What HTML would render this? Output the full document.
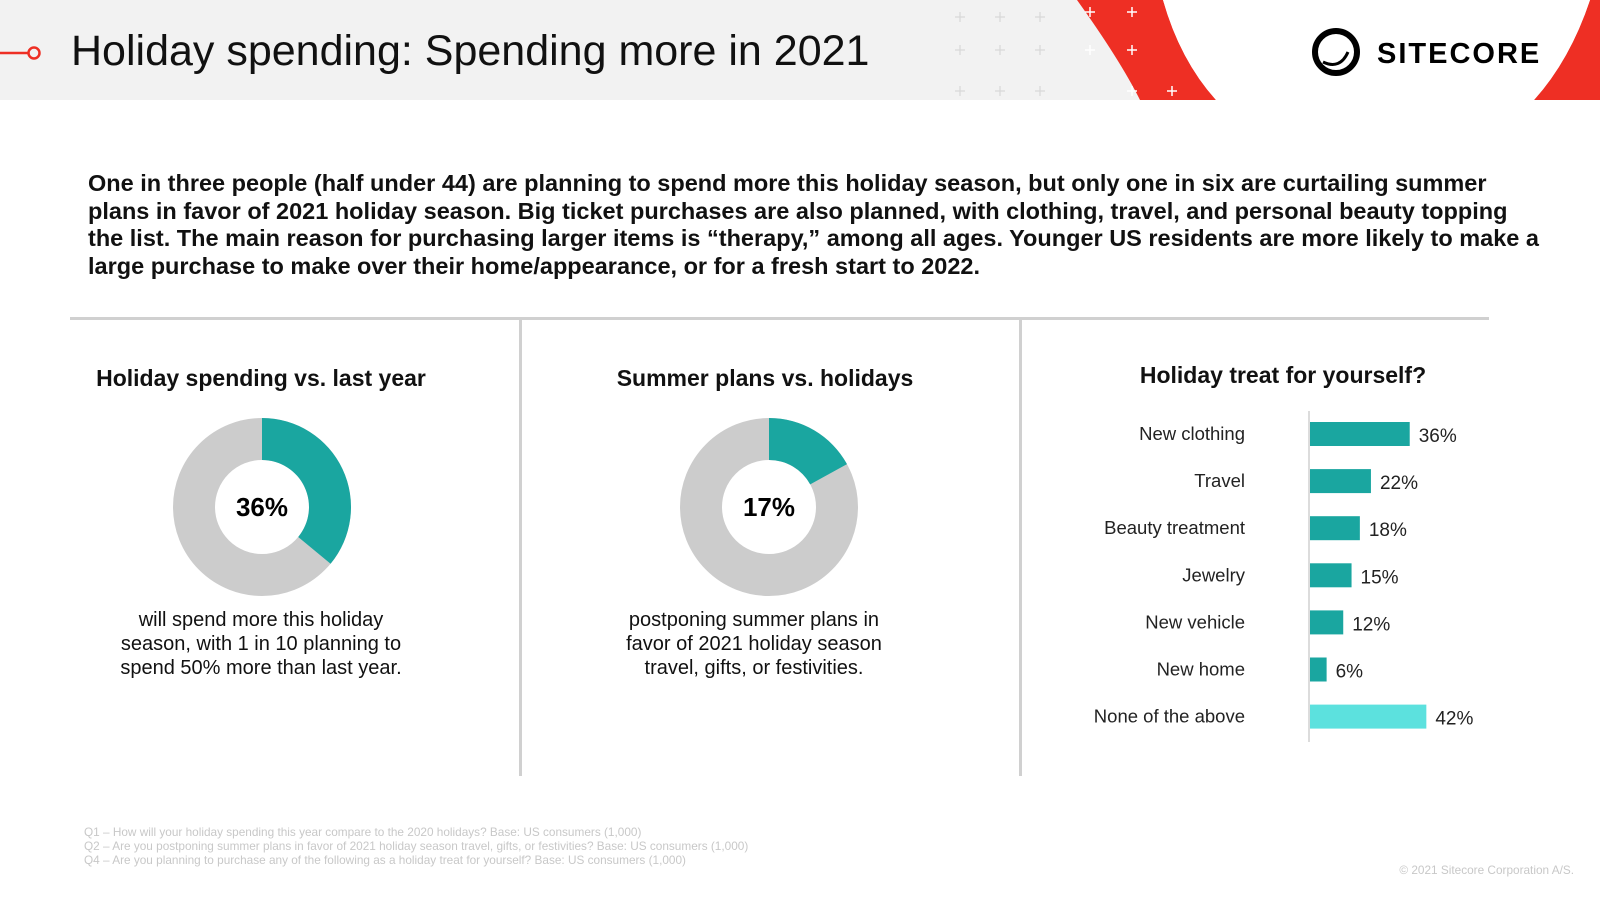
<!DOCTYPE html>
<html><head><meta charset="utf-8"><style>
body{margin:0;width:1600px;height:900px;background:#fff;font-family:"Liberation Sans",sans-serif;position:relative;overflow:hidden;color:#111}
.abs{position:absolute}
.t{font-weight:bold;font-size:23px;text-align:center;width:460px}
.cap{font-size:20px;line-height:24px;text-align:center;width:300px}
.foot{font-size:11.8px;color:#c8c8c8;left:84px}
</style></head><body>
<div class="abs" style="left:0;top:0;width:1600px;height:100px;background:#f2f2f2"></div>
<svg class="abs" style="left:0;top:0" width="1600" height="100">
<g stroke="#d8d8d8" stroke-width="1.2">
<path d="M960 12v10M955 17h10M1000 12v10M995 17h10M1040 12v10M1035 17h10M1214 12v10M1209 17h10M1256 12v10M1251 17h10"/>
<path d="M960 45v10M955 50h10M1000 45v10M995 50h10M1040 45v10M1035 50h10M1214 45v10M1209 50h10"/>
<path d="M960 86v10M955 91h10M1000 86v10M995 91h10M1040 86v10M1035 91h10M1214 86v10M1209 91h10"/>
</g>
<path d="M1077 0 Q1120 60 1140 100 L1216 100 Q1180 60 1163 0Z" fill="#ee2f24"/>
<path d="M1590 0 L1600 0 L1600 100 L1534 100 Q1570 60 1590 0Z" fill="#ee2f24"/>
<path d="M1163 0 Q1180 60 1216 100 L1534 100 Q1570 60 1590 0Z" fill="#fff"/>
<g stroke="#fff" stroke-width="1.5"><path d="M1090 7v10M1085 12h10M1132 7v10M1127 12h10M1132 45v10M1127 50h10M1090 45v10M1085 50h10M1132 86v10M1127 91h10M1172 86v10M1167 91h10"/></g>
<circle cx="1336" cy="52" r="21" fill="none" stroke="#000" stroke-width="6"/>
<path d="M1323 62 Q1340 70 1348 52" fill="none" stroke="#000" stroke-width="3"/>
<text x="1377" y="63" font-size="29" font-weight="bold" letter-spacing="2" font-family="Liberation Sans">SITECORE</text>
<path d="M0 53h28" stroke="#ee2f24" stroke-width="2.5"/><circle cx="34" cy="53" r="5.5" fill="none" stroke="#ee2f24" stroke-width="2.5"/>
</svg>
<div class="abs" style="left:71px;top:27px;font-size:43px;color:#111">Holiday spending: Spending more in 2021</div>
<div class="abs" style="left:88px;top:170px;width:1460px;font-size:23.5px;line-height:27.6px;font-weight:bold">One in three people (half under 44) are planning to spend more this holiday season, but only one in six are curtailing summer plans in favor of 2021 holiday season. Big ticket purchases are also planned, with clothing, travel, and personal beauty topping the list. The main reason for purchasing larger items is “therapy,” among all ages. Younger US residents are more likely to make a large purchase to make over their home/appearance, or for a fresh start to 2022.</div>
<div class="abs" style="left:70px;top:317px;width:1419px;height:3px;background:#d0d0d0"></div>
<div class="abs" style="left:519px;top:318px;width:3px;height:458px;background:#d0d0d0"></div>
<div class="abs" style="left:1019px;top:318px;width:3px;height:458px;background:#d0d0d0"></div>
<div class="abs t" style="left:31px;top:365px">Holiday spending vs. last year</div>
<div class="abs t" style="left:535px;top:365px">Summer plans vs. holidays</div>
<div class="abs t" style="left:1053px;top:362px">Holiday treat for yourself?</div>
<div class="abs cap" style="left:111px;top:608px">will spend more this holiday season, with 1 in 10 planning to spend 50% more than last year.</div>
<div class="abs cap" style="left:609px;top:608px;width:290px">postponing summer plans in favor of 2021 holiday season travel, gifts, or festivities.</div>
<svg id="charts" class="abs" style="left:0;top:0" width="1600" height="900"></svg>
<div class="abs foot" style="top:825px">Q1 – How will your holiday spending this year compare to the 2020 holidays? Base: US consumers (1,000)</div>
<div class="abs foot" style="top:839px">Q2 – Are you postponing summer plans in favor of 2021 holiday season travel, gifts, or festivities? Base: US consumers (1,000)</div>
<div class="abs foot" style="top:853px">Q4 – Are you planning to purchase any of the following as a holiday treat for yourself? Base: US consumers (1,000)</div>
<div class="abs foot" style="left:auto;right:26px;top:863px">© 2021 Sitecore Corporation A/S.</div>
<script>
const donutValues=[36,17];
const donutCenters=[[262,507],[769,507]];
const barCategories=["New clothing","Travel","Beauty treatment","Jewelry","New vehicle","New home","None of the above"];
const barValues=[36,22,18,15,12,6,42];
const NS="http://www.w3.org/2000/svg";
const svg=document.getElementById('charts');
function mk(t,a){const e=document.createElementNS(NS,t);for(const k in a)e.setAttribute(k,a[k]);svg.appendChild(e);return e;}
function pt(cx,cy,r,f){const a=f*2*Math.PI-Math.PI/2;return [cx+r*Math.cos(a),cy+r*Math.sin(a)];}
donutValues.forEach((v,i)=>{
 const [cx,cy]=donutCenters[i];const R=89,r=47;
 const bg=mk('circle',{cx:cx,cy:cy,r:(R+r)/2,fill:'none',stroke:'#cccccc','stroke-width':R-r});
 
 
 const f=v/100;const p0=pt(cx,cy,R,0),p1=pt(cx,cy,R,f),q1=pt(cx,cy,r,f),q0=pt(cx,cy,r,0);const lg=f>0.5?1:0;
 const s=mk('path',{d:`M${p0} A${R} ${R} 0 ${lg} 1 ${p1} L${q1} A${r} ${r} 0 ${lg} 0 ${q0}Z`,fill:'#1aa6a0'});
 
 
 const t=mk('text',{x:cx,y:cy+9,'text-anchor':'middle','font-size':26,'font-weight':'bold','font-family':'Liberation Sans'});
 t.textContent=v+'%';
 
 
});
const x0=1309,scale=2.77,y0=434,step=47.1;
const ax=mk('line',{x1:x0,x2:x0,y1:411,y2:742,stroke:'#d0d0d0','stroke-width':1.5});


barCategories.forEach((c,i)=>{
 const y=y0+i*step,w=barValues[i]*scale;
 const l=mk('text',{x:1245,y:y+6,'text-anchor':'end','font-size':18.5,'font-family':'Liberation Sans',fill:'#222'});l.textContent=c;
 
 
 const b=mk('rect',{x:x0+1,y:y-12,width:w,height:24,fill:i==barCategories.length-1?'#5ce1de':'#1aa6a0'});
 
 
 const v=mk('text',{x:x0+w+10,y:y+8,'font-size':19,'font-family':'Liberation Sans',fill:'#222'});v.textContent=barValues[i]+'%';
 
 
});
</script>
</body></html>
